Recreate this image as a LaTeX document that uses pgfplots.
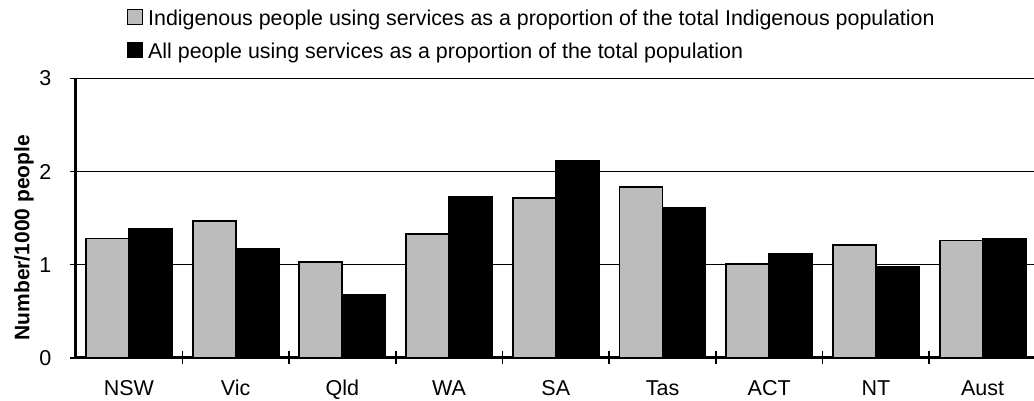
\documentclass[border=0pt]{standalone}
\usepackage{fontspec}
\setmainfont{Liberation Sans}
\usepackage{pgfplots}
\pgfplotsset{compat=1.18}
\definecolor{barGrey}{RGB}{188,188,188}
\begin{document}
\begin{tikzpicture}
\useasboundingbox (-75.6pt,-42.3pt) rectangle (958.4pt,357.7pt);
\begin{axis}[
  at={(0pt,0pt)}, anchor=south west,
  scale only axis, width=960.4pt, height=279.2pt,
  xmin=-0.5, xmax=8.5, ymin=0, ymax=3,
  axis x line*=bottom, axis y line*=left,
  axis line style={line width=2.6pt, black},
  ybar,
  xtick={0,...,8},
  xticklabels={NSW,Vic,Qld,WA,SA,Tas,ACT,NT,Aust},
  minor xtick={0.5,1.5,...,7.5},
  major x tick style={draw=none},
  ytick={0,1,2,3},
  tick align=center,
  major tick length=12pt, minor tick length=13pt,
  tick style={black, line width=1.6pt},
  ymajorgrids, grid style={black, line width=0.9pt},
  /pgf/number format/assume math mode=true,
  ticklabel style={font=\fontsize{21.5}{25}\selectfont},
  yticklabel style={inner sep=0pt, xshift=-18pt},
  xticklabel style={inner sep=0pt, text height=15.4pt, text depth=0pt, yshift=-16pt},
  ylabel={\bfseries Number/1000 people},
  ylabel style={font=\fontsize{21}{25}\selectfont, at={(axis description cs:-0.0537,0.43)}, anchor=center},
  legend image code/.code={\draw[#1, line width=1.3pt] (0pt,-5pt) rectangle (15pt,10pt);},
  legend cell align=left,
  legend style={at={(0.0532,1.25)}, anchor=north west, draw=none, fill=none,
    inner sep=0pt, row sep=12pt, column sep=5pt,
    font=\fontsize{21.4}{25}\selectfont,
    nodes={inner sep=0pt, text height=16pt, text depth=5pt}},
]
\addplot[ybar, bar width=0.403, bar shift=-0.2015, fill=barGrey, draw=black, line width=1.8pt]
  coordinates {(0,1.28) (1,1.47) (2,1.03) (3,1.33) (4,1.72) (5,1.83) (6,1.01) (7,1.21) (8,1.26)};
\addlegendentry{Indigenous people using services as a proportion of the total Indigenous population}
\addplot[ybar, bar width=0.403, bar shift=0.2015, fill=black, draw=black, line width=1.8pt]
  coordinates {(0,1.38) (1,1.17) (2,0.68) (3,1.73) (4,2.11) (5,1.61) (6,1.12) (7,0.98) (8,1.28)};
\addlegendentry{All people using services as a proportion of the total population}
\end{axis}
\end{tikzpicture}
\end{document}
